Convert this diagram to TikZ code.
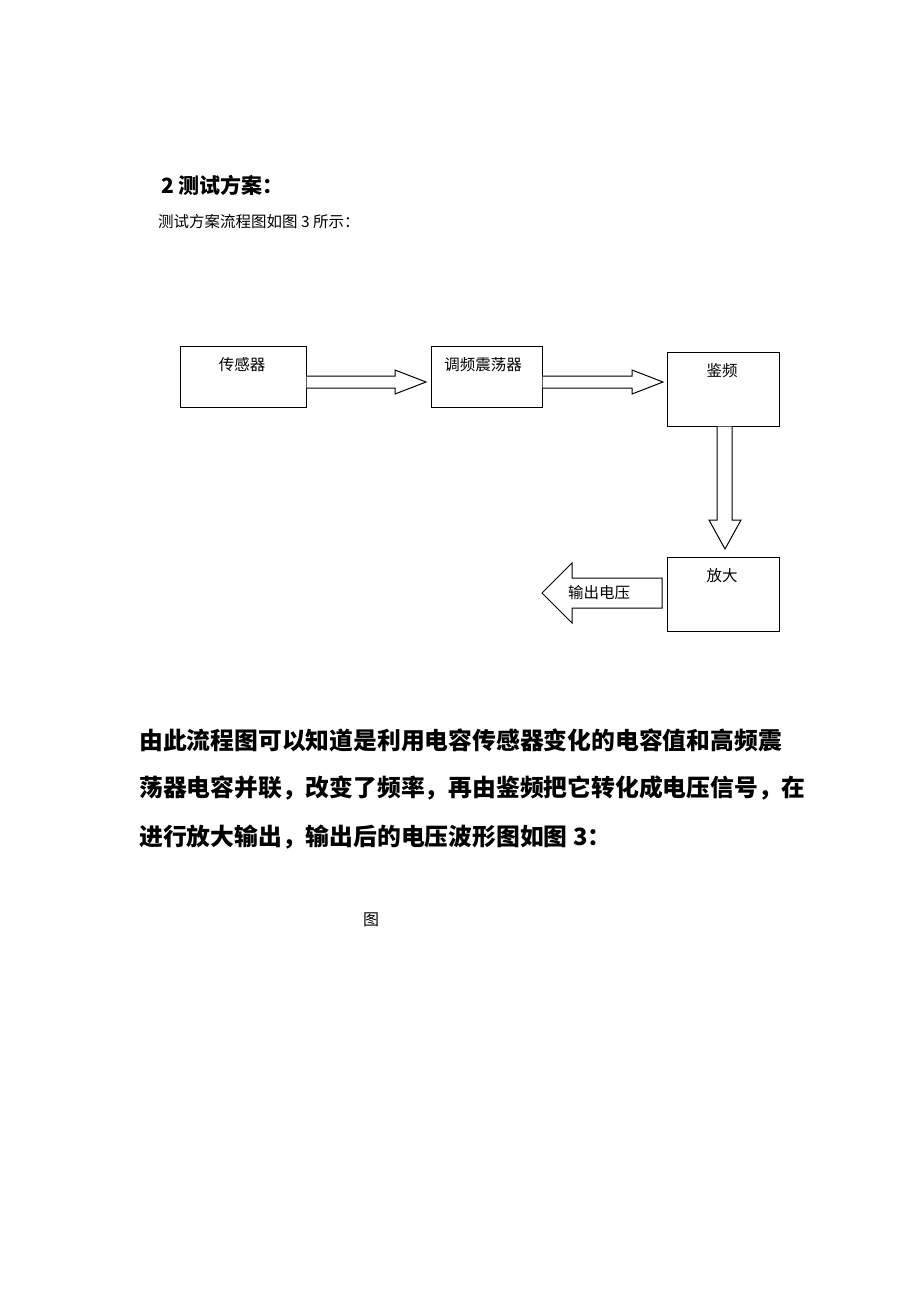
\documentclass[tikz,border=0pt]{standalone}
\usepackage{fontspec}
\newfontfamily\cjk{Noto Sans CJK SC}
\usetikzlibrary{calc}
\begin{document}
\begin{tikzpicture}[x=1pt,y=-1pt,
  box/.style={draw=black,line width=1pt,inner sep=0pt},
  lbl/.style={font=\cjk\fontsize{15.5}{18}\selectfont,inner sep=0pt},
  para/.style={font=\cjk\bfseries\fontsize{23.8}{28}\selectfont,inner sep=0pt,anchor=west},
  blk/.style={draw=black,line width=1pt,fill=white,line join=miter}]
\useasboundingbox (0,0) rectangle (920,1302);
\fill[white] (0,0) rectangle (920,1302);
% header
\node[font=\cjk\bfseries\fontsize{21}{24}\selectfont,inner sep=0pt,anchor=west] (h1) at (161,185) {2 测试方案：};
\node[font=\cjk\fontsize{15.5}{18}\selectfont,inner sep=0pt,anchor=west] (h2) at (158,222) {测试方案流程图如图 3 所示：};
% boxes
\node[box,minimum width=126pt,minimum height=61pt] (s) at (243,376.5) {};
\node[box,minimum width=111pt,minimum height=61pt] (t) at (486.5,376.5) {};
\node[box,minimum width=112pt,minimum height=74pt] (j) at (723,389) {};
\node[box,minimum width=112pt,minimum height=74pt] (f) at (723,594) {};
\node[lbl] (sl) at (242,365) {传感器};
\node[lbl] (tl) at (483,365) {调频震荡器};
\node[lbl] (jl) at (722,371) {鉴频};
\node[lbl] (fl) at (722,576) {放大};
% block arrows
\draw[blk] (s.east |- 0,376) -- (395,376) -- (395,370) -- (426,382) -- (395,394) -- (395,388) -- (s.east |- 0,388);
\draw[blk] (t.east |- 0,376) -- (632,376) -- (632,370) -- (663,382) -- (632,394) -- (632,388) -- (t.east |- 0,388);
\draw[blk] (717,0 |- j.south) -- (717,520) -- (709,520) -- (725,549) -- (741,520) -- (732,520) -- (732,0 |- j.south);
\draw[blk] (662,578) -- (572,578) -- (572,563) -- (542,593) -- (572,623) -- (572,608) -- (662,608) -- cycle;
\node[lbl] (out) at (599,593) {输出电压};
% paragraph
\node[para] (p1) at (139,740) {由此流程图可以知道是利用电容传感器变化的电容值和高频震};
\node[para] (p2) at (139,788) {荡器电容并联，改变了频率，再由鉴频把它转化成电压信号，在};
\node[para] (p3) at (139,837) {进行放大输出，输出后的电压波形图如图 3：};
\node[font=\cjk\fontsize{16}{18}\selectfont,inner sep=0pt] (fig) at (371,920) {图};
\end{tikzpicture}
\end{document}
